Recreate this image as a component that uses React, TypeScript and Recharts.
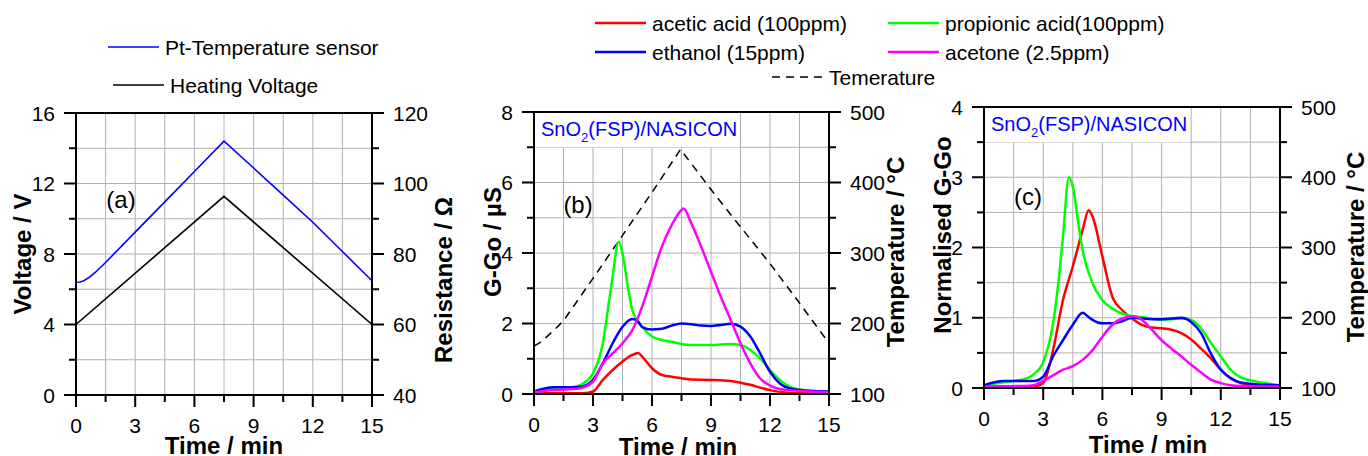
import React from 'react';
import { LineChart, Line, XAxis, YAxis, CartesianGrid, ReferenceArea, ReferenceLine, ReferenceDot, Legend } from 'recharts';

const FONT = '"Liberation Sans", Arial, Helvetica, sans-serif';

// shared time axis (min)
const timeTicks = [0, 1.5, 3, 4.5, 6, 7.5, 9, 10.5, 12, 13.5, 15];
const timeMajor = [0, 3, 6, 9, 12, 15];

// panel (a)
const voltTicks = [0, 2, 4, 6, 8, 10, 12, 14, 16];
const voltMajor = [0, 4, 8, 12, 16];
const resTicks = [40, 50, 60, 70, 80, 90, 100, 110, 120];
const resMajor = [40, 60, 80, 100, 120];
const ptSensor: [number, number][] = [
  [0, 72], [0.2, 72.05], [0.4, 72.4], [0.7, 73.5], [1, 74.9], [1.5, 77.6], [3, 86.2], [4.5, 94.8],
  [6, 103.4], [7.5, 112], [9, 104.4], [10.5, 96.7], [12, 89], [13.5, 80.7], [15, 72.4],
];
const heatVoltage: [number, number][] = [[0, 4], [7.5, 11.27], [15, 4]];

// panel (b)
const ggoTicks = [0, 1, 2, 3, 4, 5, 6, 7, 8];
const ggoMajor = [0, 2, 4, 6, 8];
const tempTicks = [100, 150, 200, 250, 300, 350, 400, 450, 500];
const tempMajor = [100, 200, 300, 400, 500];
const temperatureB: [number, number][] = [
  [0, 168], [0.3, 173], [0.6, 180], [1, 190], [1.5, 204], [3, 264], [4.5, 325], [6, 386], [7.45, 447],
  [9, 390], [10.5, 337], [12, 285], [13.5, 229], [15, 172],
];
const aceticB: [number, number][] = [
  [0, 0.02], [2.5, 0.02], [3, 0.07], [3.5, 0.4], [4, 0.68], [4.5, 0.92], [5, 1.11], [5.3, 1.16],
  [5.5, 1.06], [6, 0.73], [6.5, 0.54], [7, 0.49], [7.5, 0.45], [8, 0.41], [9, 0.4], [10, 0.37],
  [10.5, 0.32], [11, 0.26], [11.5, 0.18], [12, 0.11], [12.5, 0.06], [13, 0.03], [15, 0.02],
];
const propionicB: [number, number][] = [
  [0, 0.07], [1, 0.16], [2, 0.2], [2.5, 0.3], [3, 0.59], [3.5, 1.44], [3.8, 2.57], [4, 3.33],
  [4.3, 4.32], [4.5, 3.99], [4.8, 2.95], [5, 2.38], [5.5, 1.91], [6, 1.63], [6.5, 1.53], [7, 1.48],
  [7.5, 1.42], [8, 1.39], [9, 1.39], [10, 1.42], [10.5, 1.39], [11, 1.25], [11.5, 1.01], [12, 0.68],
  [12.5, 0.4], [13, 0.21], [13.5, 0.13], [14, 0.09], [15, 0.07],
];
const ethanolB: [number, number][] = [
  [0, 0.07], [1, 0.19], [2, 0.19], [2.5, 0.22], [3, 0.4], [3.5, 0.87], [4, 1.44], [4.5, 1.91],
  [5, 2.13], [5.3, 2.05], [5.5, 1.9], [6, 1.83], [6.5, 1.85], [7, 1.94], [7.5, 2.0], [8, 1.98],
  [8.5, 1.94], [9, 1.93], [9.5, 1.96], [10, 1.99], [10.5, 1.91], [11, 1.63], [11.5, 1.15], [12, 0.63],
  [12.5, 0.3], [13, 0.16], [14, 0.09], [15, 0.07],
];
const acetoneB: [number, number][] = [
  [0, 0.05], [1, 0.11], [2, 0.14], [2.5, 0.19], [3, 0.35], [3.5, 0.87], [4, 1.15], [4.5, 1.44],
  [5, 1.81], [5.5, 2.48], [6, 3.33], [6.5, 4.18], [7, 4.79], [7.5, 5.22], [7.6, 5.26], [8, 4.84],
  [8.5, 4.18], [9, 3.47], [9.5, 2.76], [10, 2.1], [10.5, 1.44], [11, 0.87], [11.5, 0.44], [12, 0.24],
  [12.5, 0.14], [13, 0.11], [14, 0.07], [15, 0.05],
];

// panel (c)
const normTicks = [0, 0.5, 1, 1.5, 2, 2.5, 3, 3.5, 4];
const normMajor = [0, 1, 2, 3, 4];
const aceticC: [number, number][] = [
  [0, 0.02], [2.5, 0.02], [3, 0.07], [3.5, 0.54], [4, 1.25], [4.5, 1.73], [5, 2.25], [5.3, 2.53],
  [5.5, 2.44], [6, 1.87], [6.5, 1.3], [7, 1.11], [7.5, 0.99], [8, 0.9], [8.5, 0.86], [9, 0.85],
  [9.5, 0.83], [10, 0.78], [10.5, 0.69], [11, 0.56], [11.5, 0.42], [12, 0.26], [12.5, 0.14],
  [13, 0.07], [14, 0.03], [15, 0.02],
];
const propionicC: [number, number][] = [
  [0, 0.04], [1, 0.08], [1.5, 0.1], [2, 0.12], [2.5, 0.19], [3, 0.37], [3.5, 0.92], [3.8, 1.58],
  [4, 2.15], [4.3, 3.0], [4.5, 2.87], [4.8, 2.3], [5, 1.96], [5.5, 1.49], [6, 1.25], [6.5, 1.13],
  [7, 1.06], [7.5, 1.02], [8, 1.01], [9, 0.97], [10, 0.99], [10.5, 0.97], [11, 0.85], [11.5, 0.64],
  [12, 0.45], [12.5, 0.26], [13, 0.15], [13.5, 0.11], [14, 0.08], [15, 0.04],
];
const ethanolC: [number, number][] = [
  [0, 0.04], [1, 0.1], [1.5, 0.1], [2, 0.1], [2.5, 0.1], [3, 0.16], [3.5, 0.45], [4, 0.68],
  [4.5, 0.9], [5, 1.07], [5.3, 1.01], [5.5, 0.97], [6, 0.92], [6.5, 0.92], [7, 0.95], [7.5, 1.0],
  [8, 0.99], [8.5, 0.98], [9, 0.98], [9.5, 0.99], [10, 1.0], [10.5, 0.94], [11, 0.78], [11.5, 0.49],
  [12, 0.26], [12.5, 0.14], [13, 0.08], [14, 0.05], [15, 0.04],
];
const acetoneC: [number, number][] = [
  [0, 0.02], [2, 0.03], [2.5, 0.04], [3, 0.1], [3.5, 0.18], [4, 0.26], [4.5, 0.31], [5, 0.4],
  [5.5, 0.54], [6, 0.73], [6.5, 0.9], [7, 0.99], [7.6, 1.02], [8, 0.97], [8.5, 0.83], [9, 0.68],
  [9.5, 0.56], [10, 0.45], [10.5, 0.33], [11, 0.22], [11.5, 0.12], [12, 0.07], [12.5, 0.04],
  [13, 0.03], [15, 0.02],
];

const pts = (arr: [number, number][]) => arr.map(([t, v]) => ({ t, v }));

const GRID = '#b0b0b0';

// tick with long major / short minor marks, label only on majors
const makeTick = (side: 'left' | 'right' | 'bottom', major: number[]) => (props: any) => {
  const { x, y, payload } = props;
  const v = payload.value;
  const isMajor = major.includes(v);
  const len = isMajor ? 12 : 7;
  const txt = { fontFamily: FONT, fontSize: 21, fill: '#000' };
  if (side === 'bottom') {
    return (
      <g>
        <line x1={x} y1={y} x2={x} y2={y + len} stroke="#000" strokeWidth={2} />
        {isMajor && <text x={x} y={y + 38} textAnchor="middle" {...txt}>{v}</text>}
      </g>
    );
  }
  const dir = side === 'left' ? -1 : 1;
  return (
    <g>
      <line x1={x} y1={y} x2={x + dir * len} y2={y} stroke="#000" strokeWidth={2} />
      {isMajor && (
        <text x={x + dir * 21} y={y + 7.5} textAnchor={side === 'left' ? 'end' : 'start'} {...txt}>{v}</text>
      )}
    </g>
  );
};

const vTitle = (text: string, bx: number, cy: number) => () => (
  <text transform={`translate(${bx},${cy}) rotate(-90)`} textAnchor="middle"
    fontFamily={FONT} fontSize={24} fontWeight="bold" fill="#000">{text}</text>
);
const hTitle = (text: string, cx: number, by: number) => () => (
  <text x={cx} y={by} textAnchor="middle" fontFamily={FONT} fontSize={24} fontWeight="bold" fill="#000">{text}</text>
);

const panelLabel = (text: string) => ({ viewBox }: any) => (
  <text x={viewBox.x + viewBox.width / 2} y={viewBox.y + 8} textAnchor="middle"
    fontFamily={FONT} fontSize={24} fill="#000">{text}</text>
);

const sensorLabel = ({ viewBox }: any) => (
  <text x={viewBox.x + 7} y={viewBox.y + 24} fontFamily={FONT} fontSize={20} fill="#0000ff">
    <tspan>SnO</tspan>
    <tspan dy={6} fontSize={13}>2</tspan>
    <tspan dy={-6}>(FSP)/NASICON</tspan>
  </text>
);

type LegendItem = { name: string; color: string; dash?: string; x: number; y: number };

const legendA: LegendItem[] = [
  { name: 'Pt-Temperature sensor', color: '#0000ff', x: 108, y: 47 },
  { name: 'Heating Voltage', color: '#000000', x: 113, y: 85 },
];
const legendB: LegendItem[] = [
  { name: 'acetic acid (100ppm)', color: '#ff0000', x: 135, y: 23 },
  { name: 'propionic acid(100ppm)', color: '#00ff00', x: 428, y: 23 },
  { name: 'ethanol (15ppm)', color: '#0000ff', x: 135, y: 52 },
  { name: 'acetone (2.5ppm)', color: '#ff00ff', x: 428, y: 52 },
  { name: 'Temerature', color: '#000000', dash: '8 6', x: 312, y: 77 },
];

const legendContent = (items: LegendItem[], thick: number) => () => (
  <svg width={900} height={100} style={{ display: 'block', overflow: 'visible' }}>
    {items.map((it) => (
      <g key={it.name}>
        <line x1={it.x} y1={it.y} x2={it.x + 51} y2={it.y} stroke={it.color} strokeWidth={it.dash ? 1.5 : thick}
          strokeDasharray={it.dash} />
        <text x={it.x + 57} y={it.y + 7.5} fontFamily={FONT} fontSize={21} fill="#000">{it.name}</text>
      </g>
    ))}
  </svg>
);

const legendWrap = { left: 0, top: 0, width: 900, height: 100 } as React.CSSProperties;

const xAxisProps = {
  xAxisId: 0,
  dataKey: 't',
  type: 'number' as const,
  domain: [0, 15],
  ticks: timeTicks,
  interval: 0 as const,
  tickSize: 0,
  tickMargin: 0,
  tickLine: false,
  axisLine: { stroke: '#000', strokeWidth: 2 },
  tick: makeTick('bottom', timeMajor),
  allowDataOverflow: true,
};

const yAxisBase = {
  type: 'number' as const,
  interval: 0 as const,
  tickSize: 0,
  tickMargin: 0,
  tickLine: false,
  axisLine: { stroke: '#000', strokeWidth: 2 },
  allowDataOverflow: true,
};

const PanelA = () => (
  <LineChart width={456} height={456} margin={{ top: 113, right: 0, bottom: 0, left: 0 }}>
    <CartesianGrid yAxisId="left" stroke={GRID} strokeWidth={1} />
    <XAxis {...xAxisProps} height={61} label={{ content: hTitle('Time / min', 224, 454) }} />
    <YAxis {...yAxisBase} yAxisId="left" orientation="left" width={76} domain={[0, 16]} ticks={voltTicks}
      tick={makeTick('left', voltMajor)} label={{ content: vTitle('Voltage / V', 31, 254) }} />
    <YAxis {...yAxisBase} yAxisId="right" orientation="right" width={84} domain={[40, 120]} ticks={resTicks}
      tick={makeTick('right', resMajor)} label={{ content: vTitle('Resistance / Ω', 452, 280) }} />
    <ReferenceLine yAxisId="left" y={16} stroke="#000" strokeWidth={2} />
    <ReferenceDot yAxisId="left" x={2.28} y={11.06} r={0} fill="none" stroke="none" label={{ content: panelLabel('(a)') }} />
    <Line yAxisId="right" data={pts(ptSensor)} dataKey="v" type="linear" stroke="#0000ff" strokeWidth={1.6}
      dot={false} isAnimationActive={false} />
    <Line yAxisId="left" data={pts(heatVoltage)} dataKey="v" type="linear" stroke="#000" strokeWidth={1.6}
      dot={false} isAnimationActive={false} />
    <Legend layout="horizontal" verticalAlign="middle" align="center" wrapperStyle={legendWrap}
      content={legendContent(legendA, 1.6)} />
  </LineChart>
);

const PanelB = () => (
  <LineChart width={452} height={456} margin={{ top: 112, right: 0, bottom: 0, left: 0 }}>
    <CartesianGrid yAxisId="left" stroke={GRID} strokeWidth={1} />
    <XAxis {...xAxisProps} height={62} label={{ content: hTitle('Time / min', 218, 455) }} />
    <YAxis {...yAxisBase} yAxisId="left" orientation="left" width={74} domain={[0, 8]} ticks={ggoTicks}
      tick={makeTick('left', ggoMajor)} label={{ content: vTitle('G-Go / µS', 41, 242) }} />
    <YAxis {...yAxisBase} yAxisId="right" orientation="right" width={83} domain={[100, 500]} ticks={tempTicks}
      tick={makeTick('right', tempMajor)} label={{ content: vTitle('Temperature / °C', 444, 252) }} />
    <ReferenceArea yAxisId="left" x1={0} x2={10.42} y1={7} y2={8} fill="#fff" fillOpacity={1} stroke="none"
      label={{ content: sensorLabel }} />
    <ReferenceLine yAxisId="left" y={8} stroke="#000" strokeWidth={2} />
    <ReferenceDot yAxisId="left" x={2.24} y={5.36} r={0} fill="none" stroke="none" label={{ content: panelLabel('(b)') }} />
    <Line yAxisId="right" data={pts(temperatureB)} dataKey="v" type="linear" stroke="#000" strokeWidth={1.5}
      strokeDasharray="8 6" dot={false} isAnimationActive={false} />
    <Line yAxisId="left" data={pts(aceticB)} dataKey="v" type="monotone" stroke="#ff0000" strokeWidth={2.5}
      dot={false} isAnimationActive={false} />
    <Line yAxisId="left" data={pts(propionicB)} dataKey="v" type="monotone" stroke="#00ff00" strokeWidth={2.5}
      dot={false} isAnimationActive={false} />
    <Line yAxisId="left" data={pts(ethanolB)} dataKey="v" type="monotone" stroke="#0000ff" strokeWidth={2.5}
      dot={false} isAnimationActive={false} />
    <Line yAxisId="left" data={pts(acetoneB)} dataKey="v" type="monotone" stroke="#ff00ff" strokeWidth={2.5}
      dot={false} isAnimationActive={false} />
    <Legend layout="horizontal" verticalAlign="middle" align="center" wrapperStyle={legendWrap}
      content={legendContent(legendB, 2.5)} />
  </LineChart>
);

const PanelC = () => (
  <LineChart width={456} height={456} margin={{ top: 107, right: 0, bottom: 0, left: 0 }}>
    <CartesianGrid yAxisId="left" stroke={GRID} strokeWidth={1} />
    <XAxis {...xAxisProps} height={68} label={{ content: hTitle('Time / min', 236, 453) }} />
    <YAxis {...yAxisBase} yAxisId="left" orientation="left" width={72} domain={[0, 4]} ticks={normTicks}
      tick={makeTick('left', normMajor)} label={{ content: vTitle('Normalised G-Go', 39, 235) }} />
    <YAxis {...yAxisBase} yAxisId="right" orientation="right" width={88} domain={[100, 500]} ticks={tempTicks}
      tick={makeTick('right', tempMajor)} label={{ content: vTitle('Temperature / °C', 452, 247) }} />
    <ReferenceArea yAxisId="left" x1={0} x2={10.39} y1={3.5} y2={4} fill="#fff" fillOpacity={1} stroke="none"
      label={{ content: sensorLabel }} />
    <ReferenceLine yAxisId="left" y={4} stroke="#000" strokeWidth={2} />
    <ReferenceDot yAxisId="left" x={2.23} y={2.72} r={0} fill="none" stroke="none" label={{ content: panelLabel('(c)') }} />
    <Line yAxisId="left" data={pts(aceticC)} dataKey="v" type="monotone" stroke="#ff0000" strokeWidth={2.5}
      dot={false} isAnimationActive={false} />
    <Line yAxisId="left" data={pts(propionicC)} dataKey="v" type="monotone" stroke="#00ff00" strokeWidth={2.5}
      dot={false} isAnimationActive={false} />
    <Line yAxisId="left" data={pts(ethanolC)} dataKey="v" type="monotone" stroke="#0000ff" strokeWidth={2.5}
      dot={false} isAnimationActive={false} />
    <Line yAxisId="left" data={pts(acetoneC)} dataKey="v" type="monotone" stroke="#ff00ff" strokeWidth={2.5}
      dot={false} isAnimationActive={false} />
  </LineChart>
);

export default function App() {
  return (
    <div style={{ position: 'absolute', left: 0, top: 0, width: 1368, height: 456, background: '#fff', overflow: 'hidden' }}>
      <div style={{ position: 'absolute', left: 0, top: 0 }}><PanelA /></div>
      <div style={{ position: 'absolute', left: 460, top: 0 }}><PanelB /></div>
      <div style={{ position: 'absolute', left: 912, top: 0 }}><PanelC /></div>
    </div>
  );
}
